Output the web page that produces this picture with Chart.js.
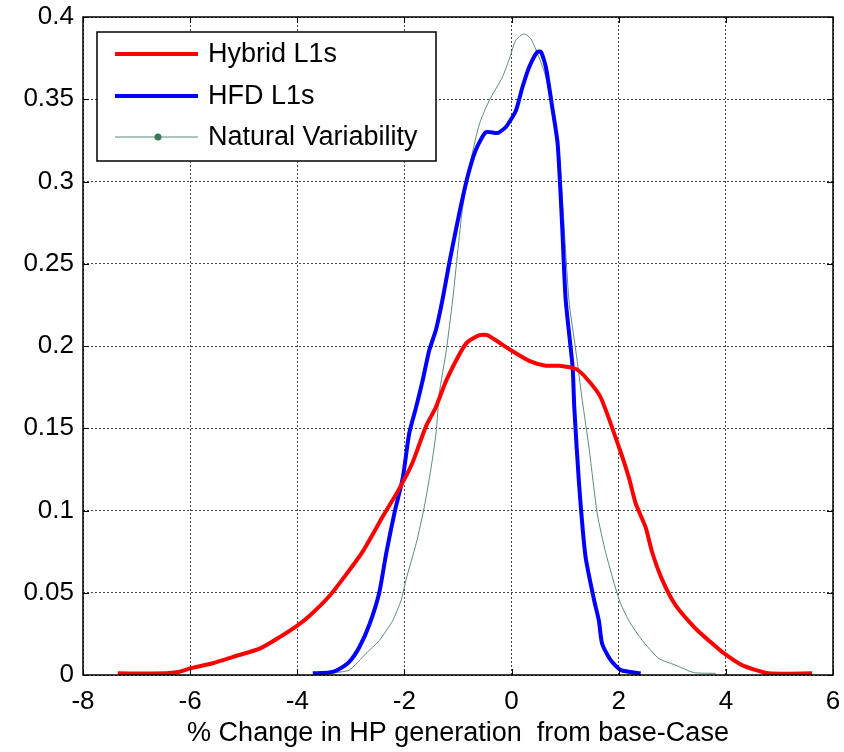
<!DOCTYPE html>
<html>
<head>
<meta charset="utf-8">
<script src="https://cdn.jsdelivr.net/npm/chart.js@4.4.0/dist/chart.umd.min.js"></script>
<style>
  html, body { margin: 0; padding: 0; background: #fff; }
  #wrap { width: 844px; height: 752px; }
</style>
</head>
<body>
<div id="wrap"><canvas id="chart" width="844" height="752"></canvas></div>
<script>
const seriesNames = ["Hybrid L1s", "HFD L1s", "Natural Variability"];
const xTicks = [-8, -6, -4, -2, 0, 2, 4, 6];
const yTicks = [0, 0.05, 0.1, 0.15, 0.2, 0.25, 0.3, 0.35, 0.4];

const hybridX = [-7.35, -6.45, -6.2, -6.0, -5.6, -5.1, -4.7, -4.33, -4.0, -3.77, -3.40, -3.09, -2.78, -2.41, -2.10, -1.85, -1.60, -1.41, -1.22, -0.85, -0.60, -0.45, -0.04, 0.33, 0.64, 0.89, 1.20, 1.38, 1.66, 2.01, 2.19, 2.32, 2.50, 2.63, 2.81, 3.06, 3.44, 3.68, 3.93, 4.30, 4.80, 5.61];
const hybridY = [0.001, 0.001, 0.002, 0.004, 0.007, 0.012, 0.016, 0.023, 0.030, 0.036, 0.048, 0.061, 0.075, 0.096, 0.113, 0.129, 0.151, 0.163, 0.179, 0.2015, 0.2066, 0.2066, 0.198, 0.191, 0.188, 0.188, 0.186, 0.181, 0.169, 0.138, 0.120, 0.104, 0.090, 0.074, 0.058, 0.0425, 0.028, 0.021, 0.014, 0.006, 0.001, 0.001];

const hfdX = [-3.71, -3.40, -3.25, -3.03, -2.84, -2.65, -2.47, -2.34, -2.19, -2.03, -1.91, -1.78, -1.66, -1.54, -1.41, -1.29, -1.16, -0.98, -0.82, -0.67, -0.48, -0.26, -0.11, 0.08, 0.20, 0.33, 0.48, 0.55, 0.64, 0.76, 0.86, 0.94, 1.01, 1.14, 1.17, 1.26, 1.38, 1.54, 1.63, 1.69, 1.85, 2.04, 2.41];
const hfdY = [0.001, 0.0015, 0.003, 0.008, 0.017, 0.031, 0.050, 0.074, 0.098, 0.120, 0.147, 0.163, 0.179, 0.197, 0.210, 0.228, 0.251, 0.280, 0.303, 0.319, 0.330, 0.3295, 0.333, 0.343, 0.357, 0.3696, 0.3787, 0.3787, 0.3696, 0.345, 0.323, 0.276, 0.228, 0.187, 0.163, 0.116, 0.072, 0.0456, 0.033, 0.019, 0.009, 0.003, 0.001];

const natX = [-3.40, -3.03, -2.72, -2.47, -2.22, -2.06, -1.97, -1.78, -1.63, -1.50, -1.41, -1.35, -1.22, -1.10, -0.92, -0.76, -0.60, -0.42, -0.17, -0.04, 0.08, 0.23, 0.36, 0.51, 0.64, 0.76, 0.89, 1.07, 1.20, 1.32, 1.45, 1.60, 1.76, 2.01, 2.19, 2.44, 2.75, 3.06, 3.40, 3.81];
const natY = [0.001, 0.003, 0.013, 0.021, 0.033, 0.0456, 0.058, 0.080, 0.102, 0.1265, 0.147, 0.171, 0.197, 0.228, 0.2825, 0.313, 0.335, 0.349, 0.3635, 0.3747, 0.386, 0.3898, 0.3868, 0.3757, 0.3635, 0.343, 0.317, 0.228, 0.197, 0.167, 0.137, 0.098, 0.074, 0.0456, 0.033, 0.021, 0.010, 0.006, 0.0015, 0.001];

const pts = (xs, ys) => xs.map((x, i) => ({ x: x, y: ys[i] }));

const FONT = "'Liberation Sans', Arial, sans-serif";

// box round the axes, with inward ticks like the original
const boxPlugin = {
  id: "box",
  afterDraw(chart) {
    const { ctx, chartArea: a, scales } = chart;
    ctx.save();
    ctx.strokeStyle = "#000";
    ctx.lineWidth = 1.5;
    ctx.strokeRect(a.left, a.top, a.right - a.left, a.bottom - a.top);
    ctx.lineWidth = 1;
    ctx.beginPath();
    xTicks.forEach(v => {
      const px = Math.round(scales.x.getPixelForValue(v)) + 0.5;
      ctx.moveTo(px, a.bottom); ctx.lineTo(px, a.bottom - 6);
      ctx.moveTo(px, a.top); ctx.lineTo(px, a.top + 6);
    });
    yTicks.forEach(v => {
      const py = Math.round(scales.y.getPixelForValue(v)) + 0.5;
      ctx.moveTo(a.left, py); ctx.lineTo(a.left + 6, py);
      ctx.moveTo(a.right, py); ctx.lineTo(a.right - 6, py);
    });
    ctx.stroke();
    ctx.restore();
  }
};

// legend box inside the plot, top left
const legendPlugin = {
  id: "innerLegend",
  afterDraw(chart) {
    const ctx = chart.ctx;
    const bx = 97, by = 32, bw = 339, bh = 129;
    ctx.save();
    ctx.fillStyle = "#fff";
    ctx.fillRect(bx, by, bw, bh);
    ctx.strokeStyle = "#000";
    ctx.lineWidth = 1.5;
    ctx.strokeRect(bx, by, bw, bh);
    const rows = [54, 96, 137];
    chart.data.datasets.forEach((ds, i) => {
      const y = rows[i];
      ctx.strokeStyle = ds.borderColor;
      ctx.lineWidth = ds.borderWidth;
      ctx.beginPath();
      ctx.moveTo(115, y);
      ctx.lineTo(198, y);
      ctx.stroke();
      if (i === 2) {
        ctx.fillStyle = "#3a7a5a";
        ctx.beginPath();
        ctx.arc(158, y, 3.5, 0, Math.PI * 2);
        ctx.fill();
      }
      ctx.fillStyle = "#000";
      ctx.font = "27px " + FONT;
      ctx.textBaseline = "middle";
      ctx.fillText(ds.label, 208, y + 1);
    });
    ctx.restore();
  }
};

const ctx = document.getElementById("chart").getContext("2d");

const densityChart = new Chart(ctx, {
  type: "scatter",
  data: {
    datasets: [
      {
        label: seriesNames[0],
        data: pts(hybridX, hybridY),
        borderColor: "#ff0000",
        borderWidth: 4,
      },
      {
        label: seriesNames[1],
        data: pts(hfdX, hfdY),
        borderColor: "#0000ff",
        borderWidth: 4,
      },
      {
        label: seriesNames[2],
        data: pts(natX, natY),
        borderColor: "#5b8c78",
        borderWidth: 1,
      },
    ].map(d => Object.assign(d, { showLine: true, pointRadius: 0, fill: false, tension: 0.2 })),
  },
  options: {
    responsive: false,
    animation: false,
    layout: { padding: { left: 0, right: 11, top: 17, bottom: 0 } },
    plugins: {
      legend: { display: false },
      tooltip: { enabled: false },
    },
    scales: {
      x: {
        type: "linear",
        min: -8,
        max: 6,
        afterFit: s => { s.height = 77; s.paddingLeft = 0; s.paddingRight = 0; },
        afterBuildTicks: s => { s.ticks = xTicks.map(v => ({ value: v })); },
        ticks: { color: "#000", font: { family: FONT, size: 26 }, padding: 11 },
        grid: { color: "#444", lineWidth: 1, drawTicks: false },
        border: { display: false, dash: [2, 2] },
        title: {
          display: true,
          text: "% Change in HP generation  from base-Case",
          color: "#000",
          font: { family: FONT, size: 27 },
          padding: { top: 0, bottom: 2 },
        },
      },
      y: {
        type: "linear",
        min: 0,
        max: 0.4,
        afterFit: s => { s.width = 83; s.paddingTop = 0; s.paddingBottom = 0; },
        afterBuildTicks: s => { s.ticks = yTicks.map(v => ({ value: v })); },
        ticks: {
          color: "#000",
          font: { family: FONT, size: 26 },
          padding: 9,
          callback: v => String(+v.toFixed(2)),
        },
        grid: { color: "#444", lineWidth: 1, drawTicks: false },
        border: { display: false, dash: [2, 2] },
      },
    },
  },
  plugins: [boxPlugin, legendPlugin],
});
</script>
</body>
</html>
